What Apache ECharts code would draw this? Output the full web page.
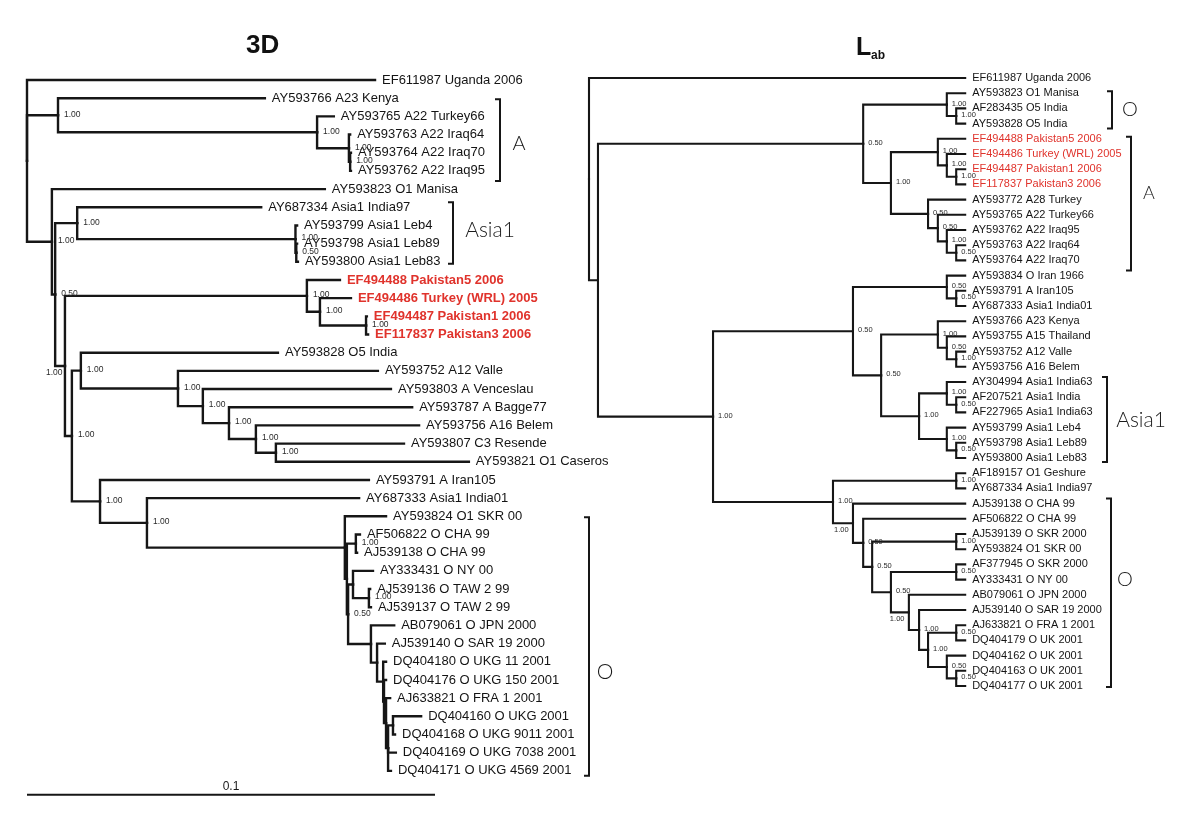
<!DOCTYPE html>
<html><head><meta charset="utf-8">
<script src="https://cdn.jsdelivr.net/npm/echarts/dist/echarts.min.js"></script>
<style>html,body{margin:0;padding:0;background:#fff}#c{width:1200px;height:836px}</style>
</head><body><div id="c"></div>
<script>
// ---------- DATA ----------
// Branch depths are in units of 0.001 substitutions/site (scale bar 0.1 = 100 units)
const leftTips = ['EF611987 Uganda 2006','AY593766 A23 Kenya','AY593765 A22 Turkey66','AY593763 A22 Iraq64','AY593764 A22 Iraq70','AY593762 A22 Iraq95','AY593823 O1 Manisa','AY687334 Asia1 India97','AY593799 Asia1 Leb4','AY593798 Asia1 Leb89','AY593800 Asia1 Leb83','EF494488 Pakistan5 2006','EF494486 Turkey (WRL) 2005','EF494487 Pakistan1 2006','EF117837 Pakistan3 2006','AY593828 O5 India','AY593752 A12 Valle','AY593803 A Venceslau','AY593787 A Bagge77','AY593756 A16 Belem','AY593807 C3 Resende','AY593821 O1 Caseros','AY593791 A Iran105','AY687333 Asia1 India01','AY593824 O1 SKR 00','AF506822 O CHA 99','AJ539138 O CHA 99','AY333431 O NY 00','AJ539136 O TAW 2 99','AJ539137 O TAW 2 99','AB079061 O JPN 2000','AJ539140 O SAR 19 2000','DQ404180 O UKG 11 2001','DQ404176 O UKG 150 2001','AJ633821 O FRA 1 2001','DQ404160 O UKG 2001','DQ404168 O UKG 9011 2001','DQ404169 O UKG 7038 2001','DQ404171 O UKG 4569 2001'];
const leftTipDepth = [85.3,58.3,75.2,79.2,79.4,79.4,73.0,57.4,66.2,66.2,66.4,76.7,79.4,83.3,83.6,61.5,86.0,89.2,94.4,96.1,92.4,108.3,83.8,81.4,88.0,81.6,80.9,84.8,84.1,84.3,90.0,87.7,88.0,88.0,89.0,96.6,90.2,90.4,89.2];
const leftHighlight = [11,12,13,14];
// [node id, depth, children (tip index or node id), support]
const leftNodes = [
 ['root',0,[0,'A','B'],''],
 ['A',7.6,[1,'A22'],'1.00'],
 ['A22',71.1,[2,'Iq'],'1.00'],
 ['Iq',78.9,[3,'Iq2'],'1.00'],
 ['Iq2',79.2,[4,5],'1.00'],
 ['B',6.1,[6,'H'],'1.00'],
 ['H',6.9,['As','D'],'0.50'],
 ['As',12.3,[7,'Lb'],'1.00'],
 ['Lb',65.8,[8,'Lb2'],'1.00'],
 ['Lb2',66.0,[9,10],'0.50'],
 ['D',9.3,['P','G'],'1.00'],
 ['P',68.6,[11,'Q'],'1.00'],
 ['Q',71.8,[12,'R'],'1.00'],
 ['R',83.1,[13,14],'1.00'],
 ['G',11.0,['S','T'],'1.00'],
 ['S',13.2,[15,'U'],'1.00'],
 ['U',37.0,[16,'V'],'1.00'],
 ['V',43.1,[17,'W'],'1.00'],
 ['W',49.5,[18,'X'],'1.00'],
 ['X',56.1,[19,'Y'],'1.00'],
 ['Y',61.0,[20,21],'1.00'],
 ['T',17.9,[22,'Z'],'1.00'],
 ['Z',29.4,[23,'O1'],'1.00'],
 ['O1',77.9,[24,'O2'],''],
 ['O2',78.4,['CH','O3'],''],
 ['CH',80.6,[25,26],'1.00'],
 ['O3',78.7,['NY','J'],'0.50'],
 ['NY',79.9,[27,'TW'],''],
 ['TW',83.8,[28,29],'1.00'],
 ['J',84.3,[30,'K'],''],
 ['K',85.8,[31,'L'],''],
 ['L',87.3,[32,'L2'],''],
 ['L2',87.5,[33,'L3'],''],
 ['L3',88.0,[34,'N'],''],
 ['N',88.5,['M',37,38],''],
 ['M',89.7,[35,36],'']
];
const leftClades = [['A',1,5],['Asia1',7,10],['O',24,38]];
const scaleBar = 0.1;
const depthUnit = 0.001;

const rightTips = ['EF611987 Uganda 2006','AY593823 O1 Manisa','AF283435 O5 India','AY593828 O5 India','EF494488 Pakistan5 2006','EF494486 Turkey (WRL) 2005','EF494487 Pakistan1 2006','EF117837 Pakistan3 2006','AY593772 A28 Turkey','AY593765 A22 Turkey66','AY593762 A22 Iraq95','AY593763 A22 Iraq64','AY593764 A22 Iraq70','AY593834 O Iran 1966','AY593791 A Iran105','AY687333 Asia1 India01','AY593766 A23 Kenya','AY593755 A15 Thailand','AY593752 A12 Valle','AY593756 A16 Belem','AY304994 Asia1 India63','AF207521 Asia1 India','AF227965 Asia1 India63','AY593799 Asia1 Leb4','AY593798 Asia1 Leb89','AY593800 Asia1 Leb83','AF189157 O1 Geshure','AY687334 Asia1 India97','AJ539138 O CHA 99','AF506822 O CHA 99','AJ539139 O SKR 2000','AY593824 O1 SKR 00','AF377945 O SKR 2000','AY333431 O NY 00','AB079061 O JPN 2000','AJ539140 O SAR 19 2000','AJ633821 O FRA 1 2001','DQ404179 O UK 2001','DQ404162 O UK 2001','DQ404163 O UK 2001','DQ404177 O UK 2001'];
const rightTipDepth = 92.2; // cladogram: tips aligned
const rightHighlight = [4,5,6,7];
const rightNodes = [
 ['root',0,[0,'r1'],''],
 ['r1',2.2,['r3','r2'],''],
 ['r3',67.2,['rO','rA'],'0.50'],
 ['rO',87.7,[1,'rO2'],'1.00'],
 ['rO2',90.0,[2,3],'1.00'],
 ['rA',74.0,['rP','rA22'],'1.00'],
 ['rP',85.5,[4,'rP2'],'1.00'],
 ['rP2',87.7,[5,'rP3'],'1.00'],
 ['rP3',90.0,[6,7],'1.00'],
 ['rA22',83.1,[8,'rs1'],'0.50'],
 ['rs1',85.5,[9,'rs2'],'0.50'],
 ['rs2',87.7,[10,'rs3'],'1.00'],
 ['rs3',90.0,[11,12],'0.50'],
 ['r2',30.4,['r4','r6'],'1.00'],
 ['r4',64.7,['rIr','r5'],'0.50'],
 ['rIr',87.7,[13,'rIr2'],'0.50'],
 ['rIr2',90.0,[14,15],'0.50'],
 ['r5',71.6,['rKe','rAs'],'0.50'],
 ['rKe',85.5,[16,'rKe2'],'1.00'],
 ['rKe2',87.7,[17,'rKe3'],'0.50'],
 ['rKe3',90.0,[18,19],'1.00'],
 ['rAs',80.9,['rIn','rLe'],'1.00'],
 ['rIn',87.7,[20,'rIn2'],'1.00'],
 ['rIn2',90.0,[21,22],'0.50'],
 ['rLe',87.7,[23,'rLe2'],'1.00'],
 ['rLe2',90.0,[24,25],'0.50'],
 ['r6',59.8,['rGe','r7'],'1.00'],
 ['rGe',90.0,[26,27],'1.00'],
 ['r7',64.7,[28,'r8'],'1.00'],
 ['r8',67.2,[29,'r9'],'0.50'],
 ['r9',69.4,['rSK','r10'],'0.50'],
 ['rSK',90.0,[30,31],'1.00'],
 ['r10',74.0,['rAF','r11'],'0.50'],
 ['rAF',90.0,[32,33],'0.50'],
 ['r11',78.4,[34,'r12'],'1.00'],
 ['r12',80.9,[35,'r13'],'1.00'],
 ['r13',83.1,['rFR','rUK'],'1.00'],
 ['rFR',90.0,[36,37],'0.50'],
 ['rUK',87.7,[38,'rUK2'],'0.50'],
 ['rUK2',90.0,[39,40],'0.50']
];
const rightClades = [['O',1,3],['A',4,12],['Asia1',20,25],['O',28,40]];
const titles = ['3D','L','ab'];

// ---------- STYLE / LAYOUT ----------
const FONT = '"Liberation Sans", Arial, Helvetica, sans-serif';
const CLADE_FONT = 'Lato, "Open Sans", "DejaVu Sans", sans-serif';
const LINE = '#161616';
const RED = '#e0332c';
const supportBelow = ['D','r7','r11'];
const leftCladeLayout = [
 {x:500, dTop:1, dBot:10, lx:519, ly:144, size:20},
 {x:453, dTop:-5, dBot:2, lx:490, ly:230, size:21},
 {x:589, dTop:1, dBot:5, lx:605, ly:672, size:21}
];
const rightCladeLayout = [
 {x:1112, dTop:-2, dBot:5, lx:1130, ly:110, size:20},
 {x:1131, dTop:-2, dBot:10, lx:1149, ly:193, size:18},
 {x:1107, dTop:-5, dBot:4, lx:1141, ly:420, size:21},
 {x:1111, dTop:-5, dBot:1, lx:1125, ly:580, size:20}
];

// ---------- TREE LAYOUT ----------
function buildTree(tipDepthOf, nodes) {
  const byId = {};
  nodes.forEach(([id, depth, kids, sup]) => byId[id] = {id, depth, kids, sup});
  const place = ref => {
    if (typeof ref === 'number') return {x: tipDepthOf(ref), y: ref};
    const n = byId[ref];
    if (n.y === undefined) {
      n.pts = n.kids.map(place);
      n.y = (n.pts[0].y + n.pts[n.pts.length - 1].y) / 2;
    }
    return {x: n.depth, y: n.y};
  };
  nodes.forEach(n => place(n[0]));
  const edges = [], supports = [], supIds = [], supText = [];
  nodes.forEach(([id]) => {
    const n = byId[id];
    n.pts.forEach(c => edges.push([n.depth, n.y, c.x, c.y]));
    if (n.sup) { supports.push([n.depth, n.y]); supIds.push(id); supText.push(n.sup); }
  });
  return {edges, supports, supIds, supText};
}
const LT = buildTree(i => leftTipDepth[i], leftNodes);
const RT = buildTree(() => rightTipDepth, rightNodes);

function edgeSeries(gi, edges, lw) {
  return {type:'custom', xAxisIndex:gi, yAxisIndex:gi, data:edges, silent:true, clip:false,
    renderItem:(p, api) => {
      const a = api.coord([api.value(0), api.value(1)]);
      const b = api.coord([api.value(0), api.value(3)]);
      const c = api.coord([api.value(2), api.value(3)]);
      return {type:'polyline', shape:{points:[a,b,c]},
        style:{stroke:LINE, lineWidth:lw, fill:null, lineJoin:'miter', lineCap:'square'}};
    }};
}
function tipSeries(gi, names, depthOf, fontSize, hi, hiBold) {
  return {type:'custom', xAxisIndex:gi, yAxisIndex:gi, silent:true, clip:false,
    data: names.map((n, i) => [depthOf(i), i]),
    renderItem:(p, api) => {
      const pt = api.coord([api.value(0), api.value(1)]);
      const i = p.dataIndex, red = hi.includes(i);
      return {type:'text', x:pt[0] + 7, y:pt[1],
        style:{text:names[i], fill: red ? RED : '#141414', fontSize, fontFamily:FONT,
          fontWeight: red && hiBold ? 'bold' : 'normal', align:'left', verticalAlign:'middle'}};
    }};
}
function supportSeries(gi, T, fontSize, dx) {
  return {type:'custom', xAxisIndex:gi, yAxisIndex:gi, silent:true, clip:false,
    data: T.supports,
    renderItem:(p, api) => {
      const pt = api.coord([api.value(0), api.value(1)]);
      const below = supportBelow.includes(T.supIds[p.dataIndex]);
      return {type:'text', x: below ? pt[0] - 19 : pt[0] + dx, y: below ? pt[1] + 7 : pt[1] - 1,
        style:{text:T.supText[p.dataIndex], fill:'#2a2a2a', fontSize, fontFamily:FONT,
          align:'left', verticalAlign:'middle'}};
    }};
}
function cladeSeries(gi, clades, layout) {
  return {type:'custom', xAxisIndex:gi, yAxisIndex:gi, silent:true, clip:false,
    data: clades.map(c => [0, c[1], c[2]]),
    renderItem:(p, api) => {
      const c = clades[p.dataIndex], Lx = layout[p.dataIndex];
      const y1 = api.coord([0, api.value(1)])[1] + Lx.dTop;
      const y2 = api.coord([0, api.value(2)])[1] + Lx.dBot;
      return {type:'group', children:[
        {type:'polyline', shape:{points:[[Lx.x - 5, y1],[Lx.x, y1],[Lx.x, y2],[Lx.x - 5, y2]]},
          style:{stroke:LINE, lineWidth:2, fill:null, lineJoin:'miter'}},
        {type:'text', x:Lx.lx, y:Lx.ly,
          style:{text:c[0], fill:'#1a1a1a', fontSize:Lx.size, fontWeight:300, fontFamily:CLADE_FONT,
            align:'center', verticalAlign:'middle'}}
      ]};
    }};
}
const scaleSeries = {type:'custom', xAxisIndex:0, yAxisIndex:0, silent:true, clip:false,
  data: [[0, scaleBar / depthUnit, leftTips.length - 1]],
  renderItem:(p, api) => {
    const a = api.coord([api.value(0), api.value(2)]);
    const b = api.coord([api.value(1), api.value(2)]);
    const y = a[1] + 24;
    return {type:'group', children:[
      {type:'line', shape:{x1:a[0], y1:y, x2:b[0], y2:y}, style:{stroke:LINE, lineWidth:2}},
      {type:'text', x:(a[0] + b[0]) / 2, y:y - 8,
        style:{text:String(scaleBar), fill:'#1a1a1a', fontSize:12, fontFamily:FONT, align:'center', verticalAlign:'middle'}}
    ]};
  }};

const chart = echarts.init(document.getElementById('c'));
chart.setOption({
  animation:false,
  backgroundColor:'#ffffff',
  title:[
    {text:titles[0], left:246, top:33, padding:0, textStyle:{fontFamily:FONT, fontWeight:'bold', fontSize:26, color:'#111'}},
    {text:titles[1], left:856, top:36, padding:0, textStyle:{fontFamily:FONT, fontWeight:'bold', fontSize:25, color:'#111'}},
    {text:titles[2], left:871, top:50, padding:0, textStyle:{fontFamily:FONT, fontWeight:'bold', fontSize:12, color:'#111'}}
  ],
  grid:[
    {left:27, top:80, width:408, height:38 * 18.18},
    {left:589, top:78, width:408, height:40 * 15.2}
  ],
  xAxis:[
    {gridIndex:0, type:'value', min:0, max:100, show:false},
    {gridIndex:1, type:'value', min:0, max:100, show:false}
  ],
  yAxis:[
    {gridIndex:0, type:'value', min:0, max:leftTips.length - 1, inverse:true, show:false},
    {gridIndex:1, type:'value', min:0, max:rightTips.length - 1, inverse:true, show:false}
  ],
  series:[
    edgeSeries(0, LT.edges, 2.4),
    edgeSeries(1, RT.edges, 2.1),
    tipSeries(0, leftTips, i => leftTipDepth[i], 13, leftHighlight, true),
    tipSeries(1, rightTips, () => rightTipDepth, 11, rightHighlight, false),
    supportSeries(0, LT, 8.5, 6),
    supportSeries(1, RT, 7.5, 5),
    cladeSeries(0, leftClades, leftCladeLayout),
    cladeSeries(1, rightClades, rightCladeLayout),
    scaleSeries
  ]
});
</script></body></html>
